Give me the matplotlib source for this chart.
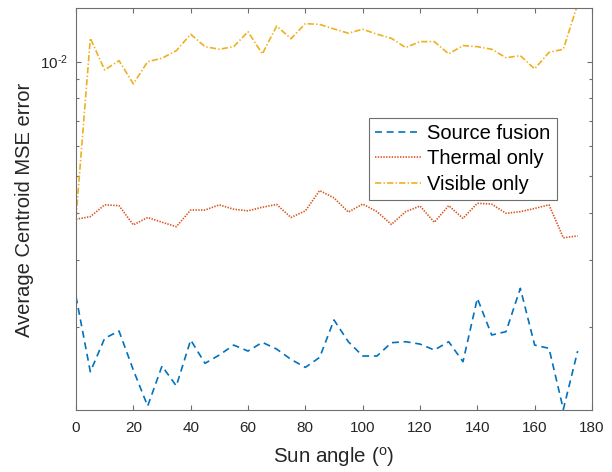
import numpy as np
import matplotlib
matplotlib.use("Agg")
import matplotlib.pyplot as plt
from matplotlib.ticker import LogLocator, NullFormatter, FixedLocator, FuncFormatter

plt.rcParams['font.family'] = ['Liberation Sans', 'DejaVu Sans']
plt.rcParams['mathtext.fontset'] = 'custom'
plt.rcParams['mathtext.rm'] = 'Liberation Sans'
plt.rcParams['mathtext.it'] = 'Liberation Sans:italic'
plt.rcParams['mathtext.bf'] = 'Liberation Sans:bold'
plt.rcParams['lines.scale_dashes'] = False

# Sun angle in degrees
sun_angle = np.arange(0, 180, 5)

source_fusion = [2.41e-3, 1.528e-3, 1.871e-3, 1.956e-3, 1.544e-3, 1.241e-3,
                 1.582e-3, 1.402e-3, 1.852e-3, 1.608e-3, 1.691e-3, 1.796e-3,
                 1.732e-3, 1.826e-3, 1.753e-3, 1.647e-3, 1.569e-3, 1.667e-3,
                 2.091e-3, 1.833e-3, 1.681e-3, 1.681e-3, 1.822e-3, 1.833e-3,
                 1.807e-3, 1.743e-3, 1.833e-3, 1.624e-3, 2.384e-3, 1.909e-3,
                 1.948e-3, 2.533e-3, 1.796e-3, 1.761e-3, 1.217e-3, 1.732e-3]

thermal_only = [3.85e-3, 3.91e-3, 4.20e-3, 4.18e-3, 3.72e-3, 3.89e-3,
                3.78e-3, 3.68e-3, 4.07e-3, 4.07e-3, 4.20e-3, 4.09e-3,
                4.05e-3, 4.14e-3, 4.21e-3, 3.89e-3, 4.05e-3, 4.58e-3,
                4.38e-3, 4.02e-3, 4.22e-3, 4.03e-3, 3.73e-3, 4.03e-3,
                4.17e-3, 3.78e-3, 4.18e-3, 3.87e-3, 4.24e-3, 4.22e-3,
                3.99e-3, 4.03e-3, 4.11e-3, 4.20e-3, 3.44e-3, 3.48e-3]

visible_only = [3.88e-3, 1.152e-2, 9.51e-3, 1.006e-2, 8.74e-3, 1.000e-2,
                1.021e-2, 1.069e-2, 1.181e-2, 1.095e-2, 1.078e-2, 1.095e-2,
                1.199e-2, 1.048e-2, 1.241e-2, 1.149e-2, 1.259e-2, 1.253e-2,
                1.219e-2, 1.188e-2, 1.217e-2, 1.181e-2, 1.152e-2, 1.089e-2,
                1.129e-2, 1.129e-2, 1.048e-2, 1.102e-2, 1.095e-2, 1.078e-2,
                1.024e-2, 1.037e-2, 9.57e-3, 1.058e-2, 1.078e-2, 1.417e-2]

series_labels = ['Source fusion', 'Thermal only', 'Visible only']
x_ticks = list(range(0, 181, 20))

fig = plt.figure(figsize=(6.12, 4.72), dpi=100)
ax = fig.add_axes([76 / 612, 1 - 410 / 472, (592 - 76) / 612, (410 - 8) / 472])

lw = 1.2
ax.plot(sun_angle, source_fusion, color='#0072BD', lw=lw,
        linestyle=(0, (5.0, 3.4)), label=series_labels[0])
ax.plot(sun_angle, thermal_only, color='#D95319', lw=lw,
        linestyle=(0, (1.0, 1.0)), label=series_labels[1])
ax.plot(sun_angle, visible_only, color='#EDB120', lw=lw,
        linestyle=(0, (4.5, 1.6, 1.0, 1.6)), label=series_labels[2])

ax.set_yscale('log')
ax.set_xlim(0, 180)
ax.set_ylim(1.212e-3, 1.384e-2)
ax.xaxis.set_major_locator(FixedLocator(x_ticks))
ax.yaxis.set_major_locator(LogLocator(base=10))
ax.yaxis.set_major_formatter(
    FuncFormatter(lambda v, pos: r'$10^{\text{-}%d}$' % round(-np.log10(v))))
ax.yaxis.set_minor_locator(LogLocator(base=10, subs=np.arange(2, 10)))
ax.yaxis.set_minor_formatter(NullFormatter())

axis_col = '#262626'
for sp in ax.spines.values():
    sp.set_color('#6e6e6e')
    sp.set_linewidth(0.8)
ax.tick_params(which='both', direction='in', top=True, right=True,
               colors='#6e6e6e', labelcolor=axis_col, labelsize=11)
ax.tick_params(which='major', length=3.5, width=0.8)
ax.tick_params(axis='x', which='major', pad=8)
ax.tick_params(axis='y', which='major', pad=6)
ax.tick_params(which='minor', length=2.5, width=0.8)

ax.set_xlabel('Sun angle ($^{\\mathrm{o}}$)', fontsize=14.8, color=axis_col, labelpad=7)
ax.set_ylabel('Average Centroid MSE error', fontsize=14.5, color=axis_col)
ax.yaxis.set_label_coords(34 / 612, 1 - 210 / 472, transform=fig.transFigure)

leg = ax.legend(loc='upper left', bbox_to_anchor=(369 / 612, 1 - 118 / 472),
                bbox_transform=fig.transFigure, fontsize=14.5, frameon=True,
                fancybox=False, framealpha=1, edgecolor='#6e6e6e',
                borderaxespad=0, borderpad=0.3, handlelength=2.3,
                handletextpad=0.3, labelspacing=0.32)
leg.get_frame().set_linewidth(0.8)

fig.savefig('out.png', dpi=100)
